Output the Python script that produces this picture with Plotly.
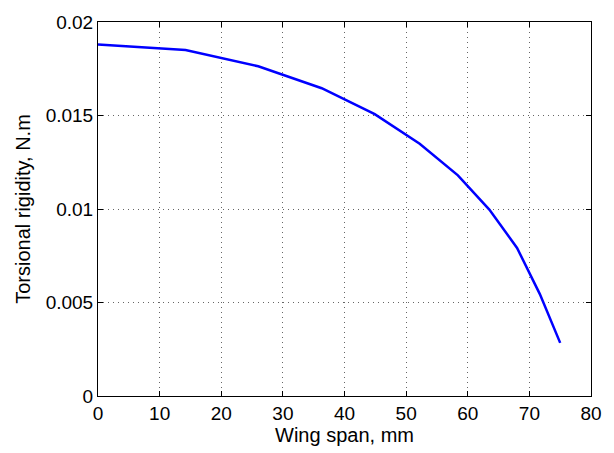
import plotly.graph_objects as go

span_mm = [0, 14.2, 26.0, 36.3, 44.9, 52.2, 58.4, 63.5, 68.0, 71.7, 75.0]
rigidity = [0.0188, 0.0185, 0.01763, 0.01646, 0.01507, 0.01349, 0.0118, 0.00997, 0.00792, 0.00545, 0.00284]

x_ticks = [0, 10, 20, 30, 40, 50, 60, 70, 80]
y_ticks = [0, 0.005, 0.01, 0.015, 0.02]
y_tick_text = ["0", "0.005", "0.01", "0.015", "0.02"]

font_family = "Liberation Sans, Arial, Helvetica, sans-serif"

fig = go.Figure()
fig.add_trace(go.Scatter(x=span_mm, y=rigidity, mode="lines",
                         line=dict(color="#0000ff", width=2.5), showlegend=False))

axis_common = dict(
    showline=True, linecolor="black", linewidth=1, mirror="allticks",
    ticks="inside", ticklen=5, tickcolor="black", tickwidth=1,
    showgrid=True, gridcolor="rgba(0,0,0,0.6)", gridwidth=1, griddash="1px,4px",
    zeroline=False, tickfont=dict(family=font_family, size=19, color="black"),
)

fig.update_xaxes(range=[0, 80], tickvals=x_ticks, ticktext=[str(v) for v in x_ticks],
                 title=dict(text="Wing span, mm", font=dict(family=font_family, size=20, color="black"), standoff=3),
                 **axis_common)
fig.update_yaxes(range=[0, 0.02], tickvals=y_ticks, ticktext=y_tick_text,
                 title=dict(text="Torsional rigidity, N.m", font=dict(family=font_family, size=20, color="black"), standoff=9),
                 **axis_common)

fig.update_layout(
    width=614, height=453,
    margin=dict(l=98, r=17, t=16, b=54, pad=0),
    paper_bgcolor="white", plot_bgcolor="white",
    font=dict(family=font_family, size=19, color="black"),
)

fig.write_html("out.html")
